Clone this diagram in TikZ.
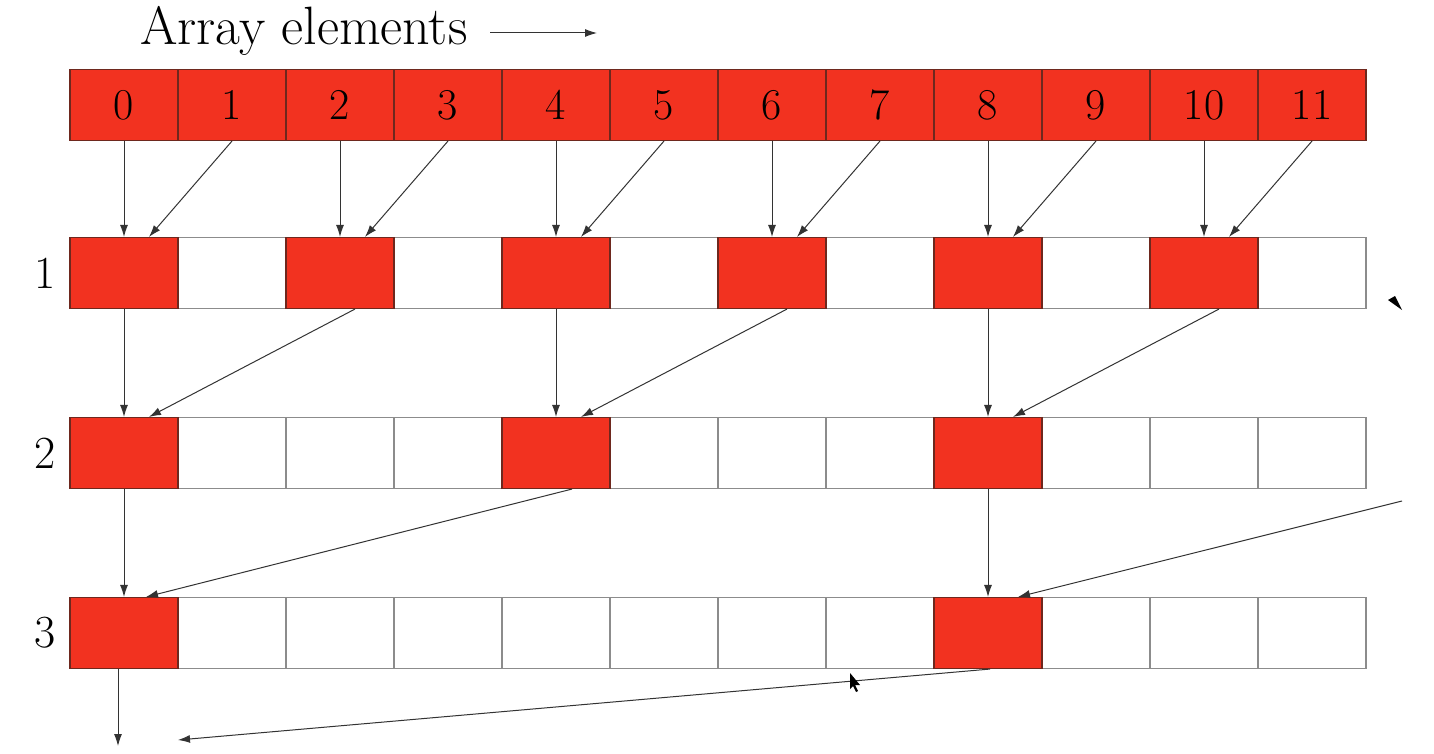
\documentclass[tikz,border=0pt]{standalone}
\usetikzlibrary{arrows.meta,calc}
\definecolor{cellred}{RGB}{242,50,32}
\definecolor{redline}{RGB}{110,40,30}
\definecolor{gridgray}{RGB}{140,140,140}
\begin{document}
\begin{tikzpicture}[x=1pt,y=-1pt,
  cellbase/.style={rectangle,minimum width=108pt,minimum height=71pt,inner sep=0pt,line width=1.1pt,font=\fontsize{44}{48}\selectfont},
  redcell/.style={cellbase,fill=cellred,draw=redline},
  whitecell/.style={cellbase,fill=white,draw=gridgray},
  conn/.style={line width=1pt,draw=black!80,-{Latex[length=12pt,width=8pt]}},
  rowlabel/.style={font=\fontsize{46}{50}\selectfont,inner sep=0pt}
]
\useasboundingbox (0,0) rectangle (1434,754);
\fill[white] (0,0) rectangle (1434,754);

% title
\node[anchor=base west,inner sep=0pt,font=\fontsize{54}{58}\selectfont] (title) at (140,45) {Array elements};
\coordinate (ta) at (490,33);
\coordinate (tb) at (597,33);
\draw[conn] (ta) -- (tb);

% top row
\foreach \i in {0,...,11} {
  \node[redcell] (t\i) at ({124+108*\i},105) {\i};
}
% row 1
\foreach \i in {0,...,11} {
  \pgfmathtruncatemacro{\r}{mod(\i,2)}
  \ifnum\r=0
    \node[redcell] (a\i) at ({124+108*\i},273) {};
  \else
    \node[whitecell] (a\i) at ({124+108*\i},273) {};
  \fi
}
% row 2
\foreach \i in {0,...,11} {
  \pgfmathtruncatemacro{\r}{mod(\i,4)}
  \ifnum\r=0
    \node[redcell] (b\i) at ({124+108*\i},453) {};
  \else
    \node[whitecell] (b\i) at ({124+108*\i},453) {};
  \fi
}
% row 3
\foreach \i in {0,...,11} {
  \pgfmathtruncatemacro{\r}{mod(\i,8)}
  \ifnum\r=0
    \node[redcell] (c\i) at ({124+108*\i},633) {};
  \else
    \node[whitecell] (c\i) at ({124+108*\i},633) {};
  \fi
}
% redraw red cells on top so their borders show
\foreach \i in {0,2,...,10} { \node[redcell] at (a\i) {}; }
\foreach \i in {0,4,8} { \node[redcell] at (b\i) {}; }
\foreach \i in {0,8} { \node[redcell] at (c\i) {}; }

% row labels
\node[rowlabel] (l1) at (45,273) {1};
\node[rowlabel] (l2) at (45,453) {2};
\node[rowlabel] (l3) at (45,633) {3};

% top -> row 1
\foreach \e/\o in {0/1,2/3,4/5,6/7,8/9,10/11} {
  \draw[conn] (t\e.south) -- (a\e.north);
  \draw[conn] (t\o.south) -- ([xshift=25pt]a\e.north);
}
% row 1 -> row 2
\foreach \e/\o in {0/2,4/6,8/10} {
  \draw[conn] (a\e.south) -- (b\e.north);
  \draw[conn] ([xshift=15pt]a\o.south) -- ([xshift=25pt]b\e.north);
}
% row 2 -> row 3
\draw[conn] (b0.south) -- (c0.north);
\draw[conn] ([xshift=16pt]b4.south) -- ([xshift=22pt]c0.north);
\draw[conn] (b8.south) -- (c8.north);
\coordinate (offr) at (1402,501);
\draw[conn] (offr) -- ([xshift=30pt]c8.north);
% row 3 -> below
\coordinate (down1) at (118,746);
\coordinate (down2) at (178,740);
\draw[conn] ([xshift=-6pt]c0.south) -- (down1);
\draw[conn] ([xshift=2pt]c8.south) -- (down2);

% stray arrowhead at right of row 1
\fill[black] (1388,300) -- (1402,310) -- (1395,296) -- cycle;
% mouse pointer
\fill[black] (850,673) -- (850,689) -- (853,686) -- (856,692) -- (858,691) -- (855,685) -- (860,685) -- cycle;
\end{tikzpicture}
\end{document}
